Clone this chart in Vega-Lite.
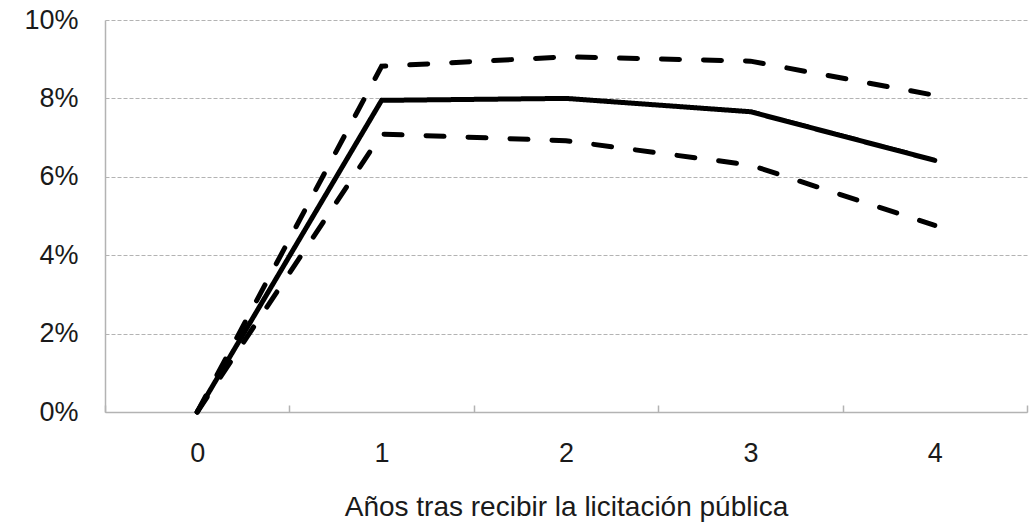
{
  "$schema": "https://vega.github.io/schema/vega-lite/v6.json",
  "width": 922,
  "height": 392,
  "autosize": {"type": "none"},
  "padding": {"left": 105, "top": 20, "right": 2, "bottom": 112},
  "background": "white",
  "config": {
    "view": {"stroke": null},
    "font": "Liberation Sans",
    "axis": {
      "labelFont": "Liberation Sans",
      "titleFont": "Liberation Sans",
      "labelColor": "#1a1a1a",
      "titleColor": "#1a1a1a",
      "labelFontWeight": "normal",
      "titleFontWeight": "normal",
      "domainColor": "#b3b3b3",
      "domainWidth": 1.5,
      "tickColor": "#b3b3b3",
      "tickWidth": 1.5,
      "gridColor": "#b3b3b3",
      "gridDash": [4, 2],
      "gridWidth": 1
    }
  },
  "data": {
    "values": [
      {"year": 0, "value": 0.0, "series": "est"},
      {"year": 1, "value": 0.0795, "series": "est"},
      {"year": 2, "value": 0.0800, "series": "est"},
      {"year": 3, "value": 0.0766, "series": "est"},
      {"year": 4, "value": 0.0642, "series": "est"},
      {"year": 0, "value": 0.0, "series": "upper"},
      {"year": 1, "value": 0.0882, "series": "upper"},
      {"year": 2, "value": 0.0906, "series": "upper"},
      {"year": 3, "value": 0.0895, "series": "upper"},
      {"year": 4, "value": 0.0808, "series": "upper"},
      {"year": 0, "value": 0.0, "series": "lower"},
      {"year": 1, "value": 0.0709, "series": "lower"},
      {"year": 2, "value": 0.0692, "series": "lower"},
      {"year": 3, "value": 0.0630, "series": "lower"},
      {"year": 4, "value": 0.0476, "series": "lower"}
    ]
  },
  "mark": {"type": "line", "color": "black", "strokeWidth": 5, "strokeCap": "round", "strokeJoin": "miter"},
  "encoding": {
    "x": {
      "field": "year",
      "type": "quantitative",
      "scale": {"domain": [-0.5, 4.5], "nice": false, "zero": false},
      "axis": {
        "title": "Años tras recibir la licitación pública",
        "titleFontSize": 28,
        "titlePadding": 27,
        "labelFontSize": 27,
        "values": [-0.5, 0, 0.5, 1, 1.5, 2, 2.5, 3, 3.5, 4, 4.5],
        "labelExpr": "datum.value % 1 === 0 ? format(datum.value, 'd') : ''",
        "labelOverlap": false,
        "labelFlush": false,
        "labelBound": false,
        "grid": false,
        "ticks": true,
        "tickSize": -7,
        "tickOpacity": {"condition": {"test": "datum.value % 1 === 0", "value": 0}, "value": 1},
        "labelPadding": 35
      }
    },
    "y": {
      "field": "value",
      "type": "quantitative",
      "scale": {"domain": [0, 0.1], "nice": false},
      "axis": {
        "title": null,
        "format": ".0%",
        "values": [0, 0.02, 0.04, 0.06, 0.08, 0.1],
        "labelFontSize": 27,
        "labelPadding": 27,
        "ticks": false,
        "grid": true
      }
    },
    "strokeDash": {
      "field": "series",
      "type": "nominal",
      "scale": {"domain": ["est", "upper", "lower"], "range": [[1, 0], [18, 24], [18, 24]]},
      "legend": null
    }
  }
}
